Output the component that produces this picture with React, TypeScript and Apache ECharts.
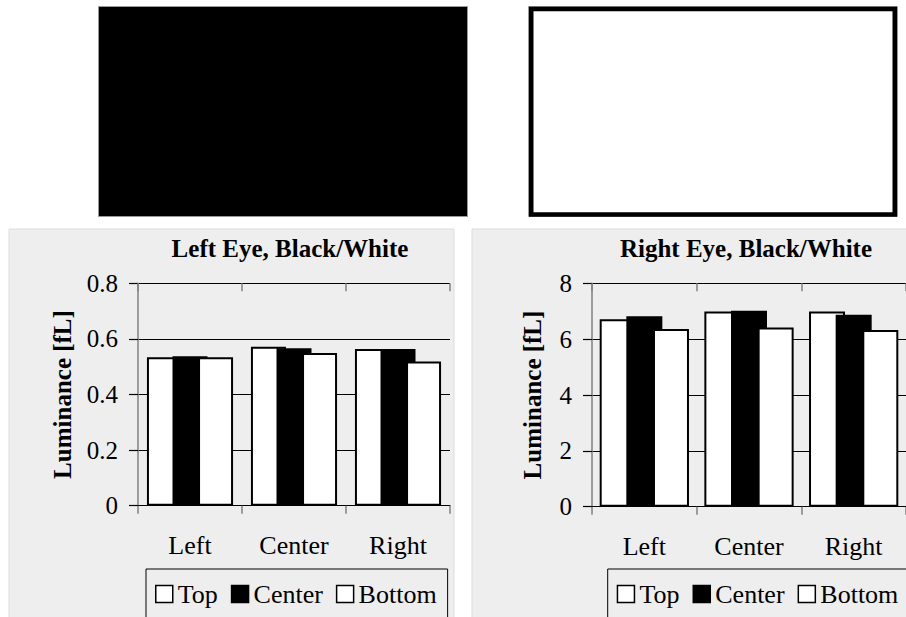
import React, { useEffect, useRef } from "react";
import * as echarts from "echarts";

const categories = ["Left", "Center", "Right"];
const seriesNames = ["Top", "Center", "Bottom"];
const leftTop = [0.534, 0.572, 0.564];
const leftCenter = [0.538, 0.566, 0.564];
const leftBottom = [0.534, 0.549, 0.519];
const rightTop = [6.71, 6.99, 6.99];
const rightCenter = [6.82, 7.02, 6.87];
const rightBottom = [6.36, 6.42, 6.33];
const leftTitle = "Left Eye, Black/White";
const rightTitle = "Right Eye, Black/White";
const yName = "Luminance [fL]";

const FONT = "'Liberation Serif', 'Times New Roman', 'DejaVu Serif', serif";
const BG = "#eeeeee";

export default function App() {
  const ref = useRef<HTMLDivElement>(null);
  useEffect(() => {
    if (!ref.current) return;
    const chart = echarts.init(ref.current, undefined, { renderer: "svg" });
    const fills = ["#ffffff", "#000000", "#ffffff"];
    const mkSeries = (idx: number, data: number[][], bw: number, gap: string) =>
      data.map((d, i) => ({
        type: "bar",
        name: seriesNames[i],
        xAxisIndex: idx,
        yAxisIndex: idx,
        data: d,
        barWidth: bw,
        barGap: gap,
        itemStyle: { color: fills[i], borderColor: "#000", borderWidth: 2 },
      }));
    const xAxisBase = (gi: number) => ({
      type: "category",
      gridIndex: gi,
      data: categories,
      boundaryGap: true,
      axisLine: { show: true, lineStyle: { color: "#000", width: 1.2 } },
      axisTick: { show: true, length: 8, lineStyle: { color: "#808080", width: 1.5 } },
      axisLabel: { fontFamily: FONT, fontSize: 26, color: "#000", margin: 27 },
      splitLine: { show: false },
    });
    const xAxisInside = (gi: number) => ({
      type: "category",
      gridIndex: gi,
      data: categories,
      boundaryGap: true,
      axisLine: { show: false },
      axisTick: { show: true, inside: true, length: 8, lineStyle: { color: "#808080", width: 1.5 } },
      axisLabel: { show: false },
      splitLine: { show: false },
    });
    const yAxisBase = (gi: number, max: number, interval: number, gap: number) => ({
      type: "value",
      gridIndex: gi,
      min: 0,
      max,
      interval,
      name: yName,
      nameLocation: "middle",
      nameGap: gap,
      nameTextStyle: { fontFamily: FONT, fontSize: 25, fontWeight: "bold", color: "#000" },
      axisLine: { show: true, lineStyle: { color: "#808080", width: 1.5 } },
      axisTick: { show: true, length: 9, lineStyle: { color: "#000", width: 1.2 } },
      axisLabel: { fontFamily: FONT, fontSize: 25, color: "#000", margin: 20 },
      splitLine: { show: true, lineStyle: { color: "#000", width: 1.2 } },
    });
    const legendBase = (left: number) => ({
      left,
      top: 569,
      width: 320,
      orient: "horizontal",
      data: seriesNames,
      icon: "rect",
      itemWidth: 17,
      itemHeight: 17,
      itemGap: 13,
      padding: [12, 11, 40, 9],
      borderColor: "#000",
      borderWidth: 1,
      textStyle: { fontFamily: FONT, fontSize: 26, color: "#000" },
      itemStyle: { borderWidth: 1.5, borderColor: "#000" },
      selectedMode: false,
    });
    chart.setOption({
      animation: false,
      backgroundColor: "#ffffff",
      grid: [
        { left: 138, top: 283.3, width: 312, height: 222.4 },
        { left: 592, top: 283.3, width: 320, height: 223.4 },
      ],
      xAxis: [xAxisBase(0), xAxisBase(1), xAxisInside(0), xAxisInside(1)],
      yAxis: [yAxisBase(0, 0.8, 0.2, 63), yAxisBase(1, 8, 2, 47)],
      legend: [legendBase(146), legendBase(607.7)],
      series: [
        ...mkSeries(0, [leftTop, leftCenter, leftBottom], 35, "-27%"),
        ...mkSeries(1, [rightTop, rightCenter, rightBottom], 36, "-26%"),
      ],
      graphic: [
        { type: "rect", z: -100, shape: { x: 9, y: 229, width: 445, height: 400 }, style: { fill: BG, stroke: "#dddddd", lineWidth: 1 } },
        { type: "rect", z: -100, shape: { x: 472, y: 229, width: 440, height: 400 }, style: { fill: BG, stroke: "#dddddd", lineWidth: 1 } },
        { type: "rect", shape: { x: 98.5, y: 6.5, width: 369, height: 210 }, style: { fill: "#000", stroke: "#999", lineWidth: 1 } },
        { type: "rect", shape: { x: 528.5, y: 6.5, width: 369, height: 210 }, style: { fill: "#fff", stroke: "#999", lineWidth: 1 } },
        { type: "rect", shape: { x: 531.25, y: 9, width: 363.5, height: 205.5 }, style: { fill: "#fff", stroke: "#000", lineWidth: 4.5 } },
        { type: "text", x: 290, y: 248, style: { text: leftTitle, fontFamily: FONT, fontSize: 25, fontWeight: "bold", fill: "#000", align: "center", verticalAlign: "middle" } },
        { type: "text", x: 746, y: 248, style: { text: rightTitle, fontFamily: FONT, fontSize: 25, fontWeight: "bold", fill: "#000", align: "center", verticalAlign: "middle" } },
      ],
    });
    return () => chart.dispose();
  }, []);
  return <div ref={ref} style={{ position: "absolute", left: 0, top: 0, width: 906, height: 617 }} />;
}
